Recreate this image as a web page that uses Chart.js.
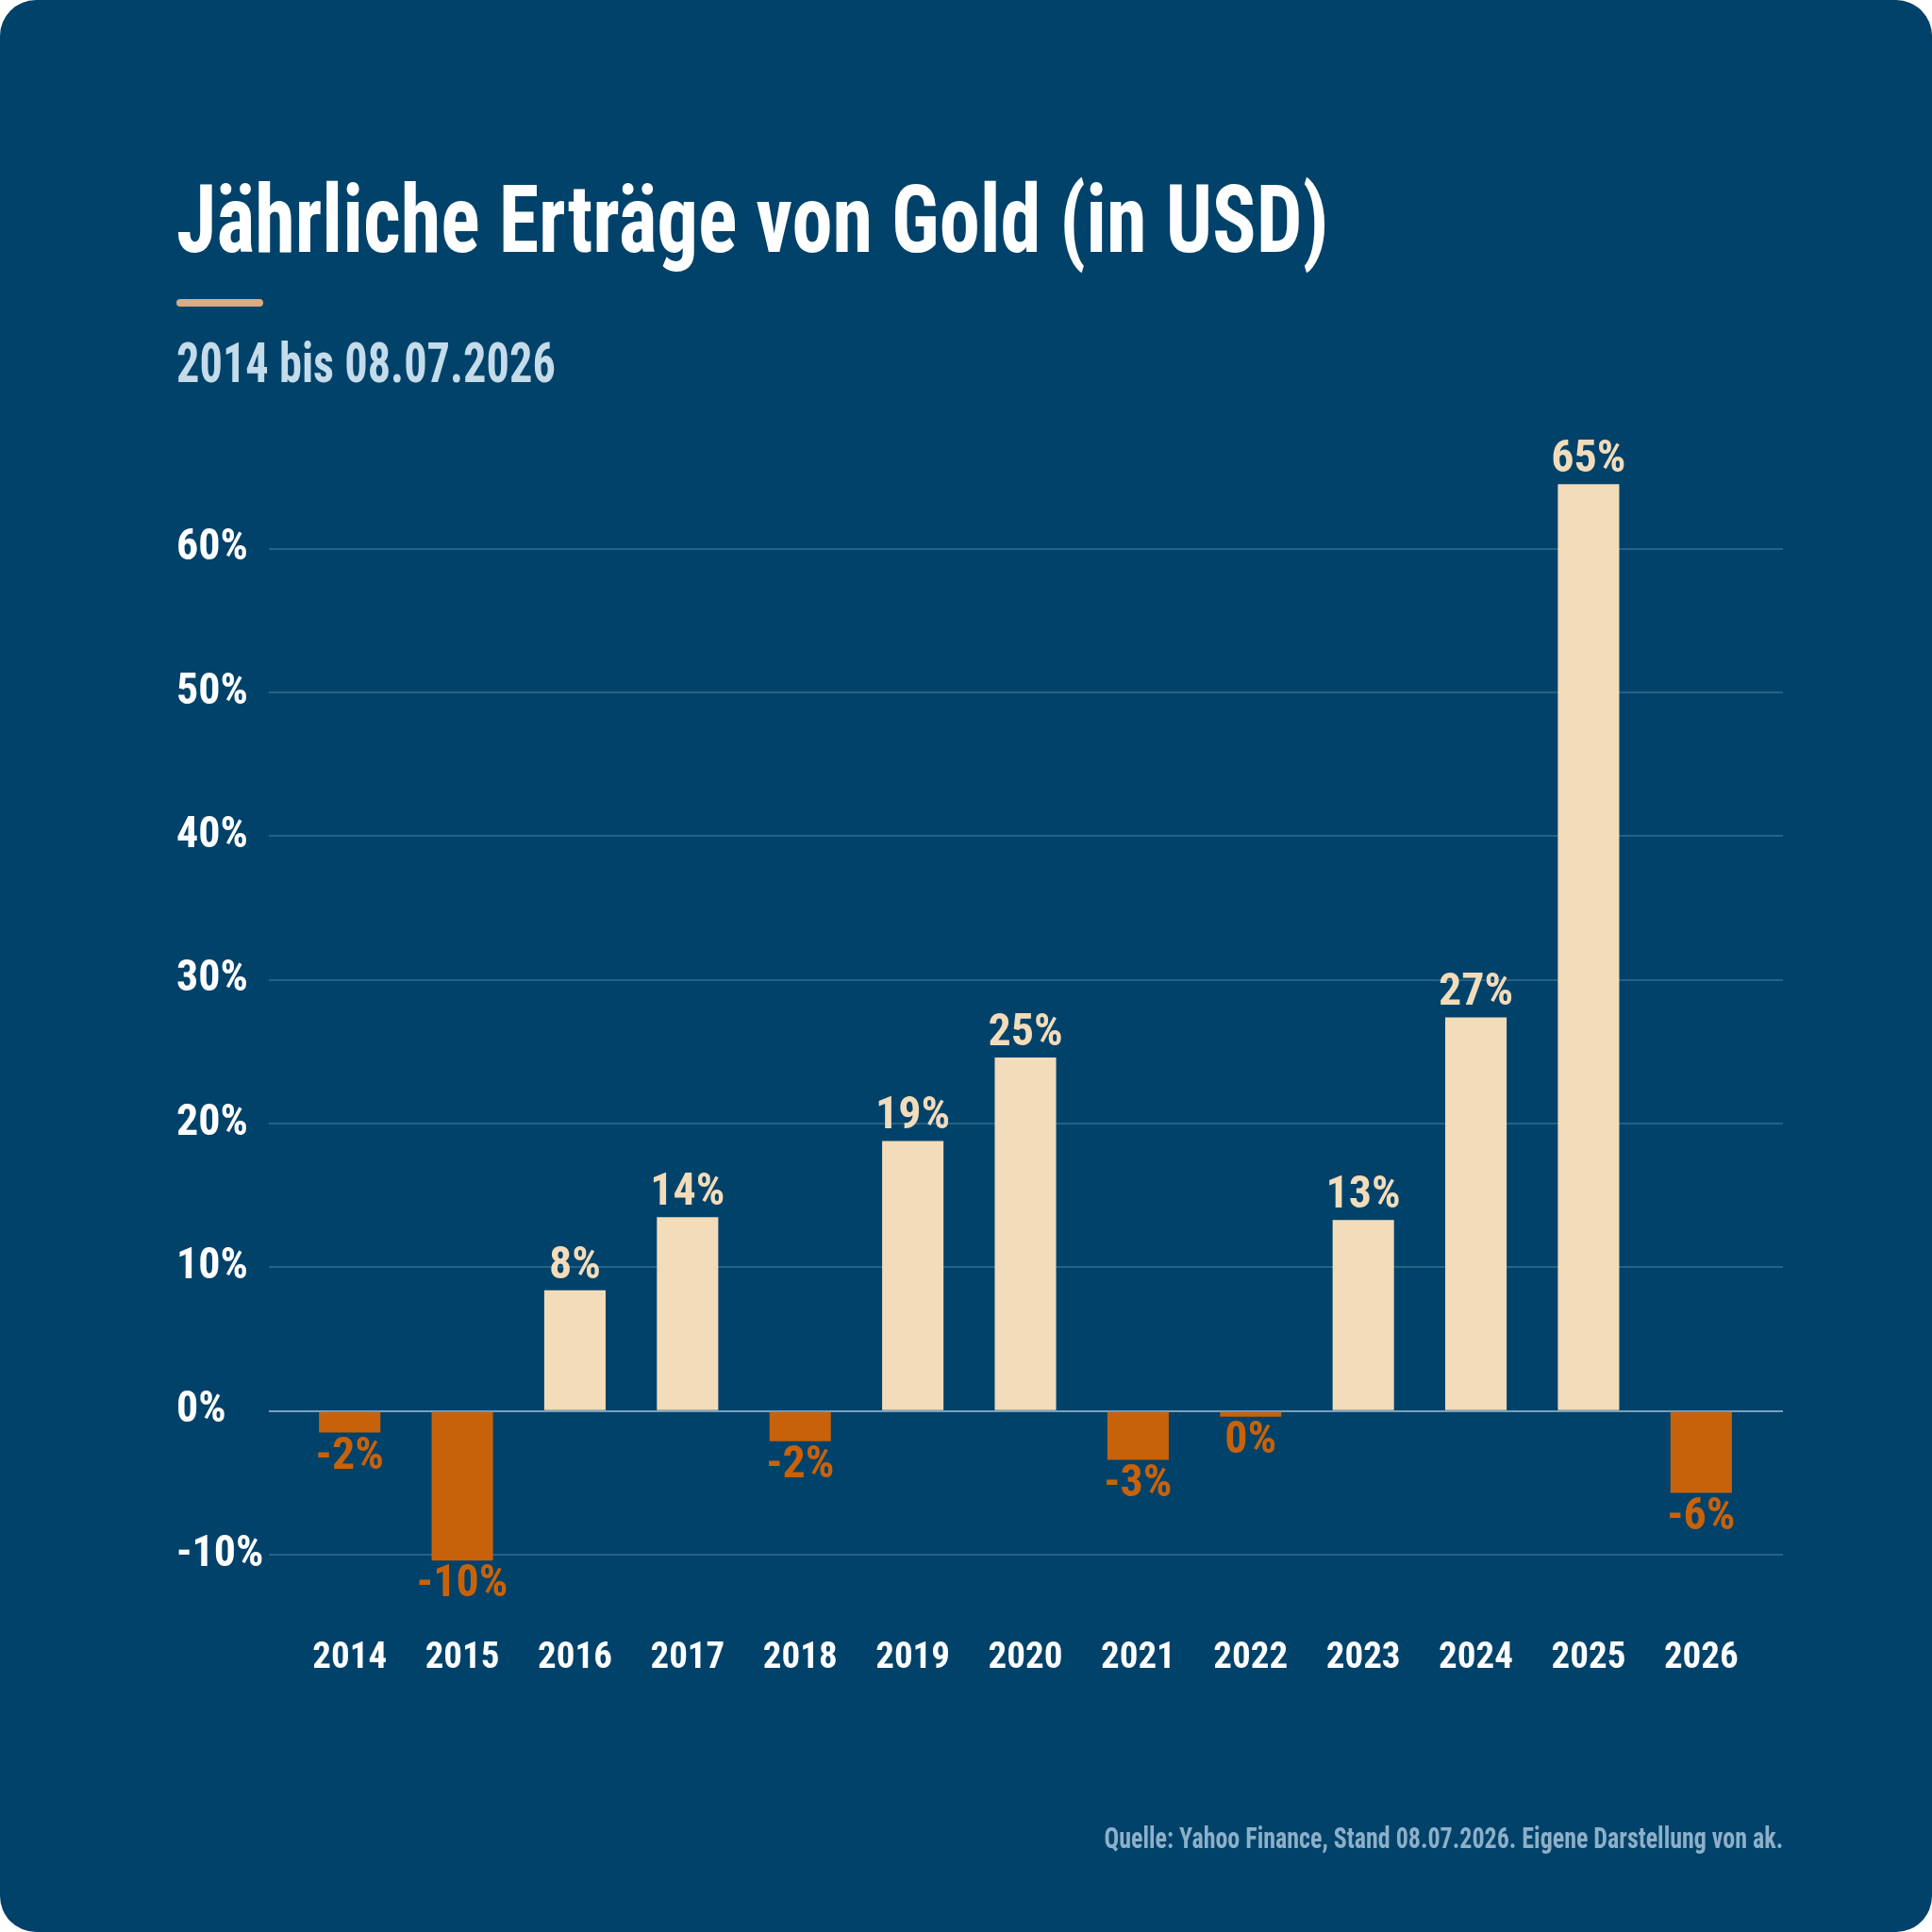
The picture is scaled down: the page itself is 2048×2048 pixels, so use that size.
<!DOCTYPE html>
<html lang="de">
<head>
<meta charset="utf-8">
<title>Jährliche Erträge von Gold (in USD)</title>
<script src="https://cdn.jsdelivr.net/npm/chart.js@4.4.1/dist/chart.umd.min.js"></script>
<style>
  html, body { margin: 0; padding: 0; background: #ffffff; }
  #card {
    position: absolute; left: 0; top: 0; width: 2048px; height: 2048px;
    border-radius: 38px; background: #01426a; overflow: hidden;
    font-family: 'Roboto Condensed', 'DejaVu Sans Condensed', sans-serif;
  }
  .txt { position: absolute; white-space: nowrap; line-height: 1; font-weight: 700; }
  #title { left: 187px; top: 183px; font-size: 100px; color: #ffffff; transform: scaleX(0.865); transform-origin: left top; }
  #rule { position: absolute; left: 187px; top: 317px; width: 92px; height: 8px; border-radius: 4px; background: #dcab7e; }
  #subtitle { left: 187px; top: 355px; font-size: 59px; color: #c4dbea; transform: scaleX(0.82); transform-origin: left top; }
  #source { right: 158px; top: 1932px; font-size: 32px; color: #8db0c8; transform: scaleX(0.812); transform-origin: right top; }
  canvas { position: absolute; left: 0; top: 0; }
</style>
</head>
<body>
<div id="card">
  <div id="title" class="txt">Jährliche Erträge von Gold (in USD)</div>
  <div id="rule"></div>
  <div id="subtitle" class="txt">2014 bis 08.07.2026</div>
  <canvas id="chart" width="2048" height="2048"></canvas>
  <div id="source" class="txt">Quelle: Yahoo Finance, Stand 08.07.2026. Eigene Darstellung von ak.</div>
</div>
<script>
// ---- data ----
const years = ['2014','2015','2016','2017','2018','2019','2020','2021','2022','2023','2024','2025','2026'];
const returns = [-1.5, -10.4, 8.4, 13.5, -2.1, 18.8, 24.6, -3.4, -0.4, 13.3, 27.4, 64.5, -5.7];
const returnLabels = ['-2%','-10%','8%','14%','-2%','19%','25%','-3%','0%','13%','27%','65%','-6%'];
const yMin = -14;
const yMax = 68;
const yStep = 10;

// ---- styles ----
const FONT = "'Roboto Condensed', 'DejaVu Sans Condensed', sans-serif";
const POS = '#f3dcba';
const NEG = '#c8620a';
const GRID = '#246288';
const ZERO = '#78a2bf';

const gridColor = (ctx) => (ctx.tick && ctx.tick.value === 0) ? ZERO : GRID;

const barLabels = {
  id: 'barLabels',
  afterDatasetsDraw(chart) {
    const ctx = chart.ctx;
    const meta = chart.getDatasetMeta(0);
    ctx.save();
    ctx.font = `bold 48px ${FONT}`;
    ctx.textAlign = 'center';
    ctx.textBaseline = 'alphabetic';
    meta.data.forEach((bar, i) => {
      const v = returns[i];
      if (v >= 0) {
        ctx.fillStyle = POS;
        ctx.fillText(returnLabels[i], bar.x, bar.y - 13);
      } else {
        ctx.fillStyle = NEG;
        ctx.fillText(returnLabels[i], bar.x, bar.y + 38);
      }
    });
    ctx.restore();
  }
};

new Chart(document.getElementById('chart'), {
  type: 'bar',
  data: {
    labels: years,
    datasets: [{
      data: returns,
      backgroundColor: returns.map(v => v >= 0 ? POS : NEG),
      borderWidth: 0,
      categoryPercentage: 1,
      barPercentage: 0.545
    }]
  },
  options: {
    responsive: false,
    devicePixelRatio: 1,
    animation: false,
    layout: { padding: { left: 187, right: 158, top: 460, bottom: 239 } },
    plugins: { legend: { display: false }, tooltip: { enabled: false }, title: { display: false } },
    scales: {
      x: {
        grid: { display: false },
        border: { display: false },
        ticks: { color: '#ffffff', font: { family: FONT, size: 39, weight: 'bold' }, padding: 18, maxRotation: 0, autoSkip: false },
        afterFit(scale) { scale.height = 100; }
      },
      y: {
        position: 'left',
        min: yMin, max: yMax,
        border: { display: false },
        grid: { color: gridColor, lineWidth: 2, drawTicks: true, tickLength: 26 },
        ticks: {
          stepSize: yStep, includeBounds: false, crossAlign: 'far',
          color: '#ffffff', font: { family: FONT, size: 46, weight: 'bold' },
          callback: (v) => v + '%'
        },
        afterFit(scale) { scale.width = 124; }
      },
      y2: {
        position: 'right',
        min: yMin, max: yMax,
        border: { display: false },
        grid: { color: gridColor, lineWidth: 2, drawOnChartArea: false, drawTicks: true, tickLength: 27 },
        ticks: { stepSize: yStep, includeBounds: false, display: false },
        afterFit(scale) { scale.width = 27; }
      }
    }
  },
  plugins: [barLabels]
});
</script>
</body>
</html>
